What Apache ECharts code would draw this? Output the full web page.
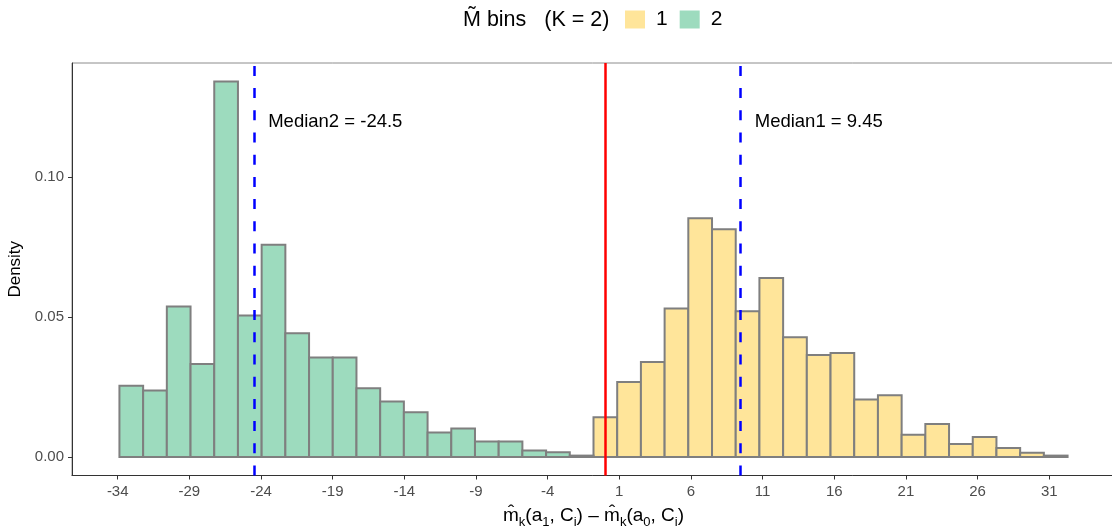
<!DOCTYPE html>
<html>
<head>
<meta charset="utf-8">
<title>histogram</title>
<script src="https://cdn.jsdelivr.net/npm/echarts@6/dist/echarts.min.js"></script>
<style>
  html, body { margin: 0; padding: 0; background: #fff; }
  #chart { width: 1112px; height: 531px; }
</style>
</head>
<body>
<div id="chart"></div>
<script>
// histogram bins (shared by both groups)
var binStart = -33.88;
var binWidth = 1.654;

// group 2 (green) fills bins 0..19, group 1 (yellow) fills bins 20..39
var group2Offset = 0;
var group2Density = [0.0254, 0.0237, 0.0537, 0.0332, 0.1340, 0.0505, 0.0757, 0.0442, 0.0355, 0.0355,
                     0.0245, 0.0198, 0.0160, 0.0087, 0.0102, 0.0055, 0.0055, 0.0023, 0.0017, 0.0005];
var group1Offset = 20;
var group1Density = [0.0142, 0.0268, 0.0339, 0.0530, 0.0852, 0.0813, 0.0520, 0.0639, 0.0427, 0.0364,
                     0.0371, 0.0205, 0.0220, 0.0079, 0.0118, 0.0046, 0.0071, 0.0032, 0.0015, 0.0005];

var medianValues = [9.45, -24.5];
var medianLabels = ['Median1 = 9.45', 'Median2 = -24.5'];
var medianLabelY = 0.12;

var xTicks = [-34, -29, -24, -19, -14, -9, -4, 1, 6, 11, 16, 21, 26, 31];
var yTicks = [0, 0.05, 0.10];
var yTickLabels = ['0.00', '0.05', '0.10'];

var FONT = '"Liberation Sans", Arial, Helvetica, sans-serif';
var fill1 = '#FFE59A';
var fill2 = '#9DDBBE';

function binData(dens, offset) {
  var out = [];
  for (var k = 0; k < dens.length; k++) {
    out.push([binStart + (offset + k) * binWidth, binStart + (offset + k + 1) * binWidth, dens[k]]);
  }
  return out;
}

function barRenderer(color) {
  return function (params, api) {
    var p0 = api.coord([api.value(0), api.value(2)]);
    var p1 = api.coord([api.value(1), 0]);
    return {
      type: 'rect',
      shape: { x: p0[0], y: p0[1], width: p1[0] - p0[0], height: p1[1] - p0[1] },
      style: { fill: color, stroke: '#7f7f7f', lineWidth: 2 }
    };
  };
}

var annData = medianValues.map(function (v, i) { return [v, medianLabelY, medianLabels[i]]; });

var chart = echarts.init(document.getElementById('chart'));
chart.setOption({
  animation: false,
  textStyle: { fontFamily: FONT },
  title: {
    text: 'M\u0303 bins   (K = 2)',
    left: 458,
    top: 4,
    textStyle: { fontFamily: FONT, fontSize: 21.5, fontWeight: 'normal', color: '#000' }
  },
  legend: {
    data: ['1', '2'],
    left: 620,
    top: 4,
    icon: 'rect',
    itemWidth: 20,
    itemHeight: 18,
    itemGap: 12,
    itemStyle: { borderWidth: 0 },
    textStyle: { fontFamily: FONT, fontSize: 21, color: '#000', padding: [0, 0, 0, 6] }
  },
  grid: {
    left: 72,
    width: 1043,
    top: 63,
    bottom: 55.5,
    outerBoundsMode: 'none',
    containLabel: false,
    show: true,
    borderColor: '#8c8c8c',
    borderWidth: 1
  },
  xAxis: {
    type: 'value',
    min: -37.19,
    max: 35.59,
    splitLine: { show: false },
    axisLine: { show: true, onZero: false, lineStyle: { color: '#333', width: 1 } },
    axisTick: { show: true, length: 4, customValues: xTicks, lineStyle: { color: '#333' } },
    axisLabel: { customValues: xTicks, fontSize: 15, color: '#4d4d4d', margin: 9, fontFamily: FONT },
    name: '{b|m\u0302}{s|k}{b|(a}{s|1}{b|, C}{s|i}{b|) \u2013 }{b|m\u0302}{s|k}{b|(a}{s|0}{b|, C}{s|i}{b|)}',
    nameLocation: 'middle',
    nameGap: 27,
    nameTextStyle: {
      rich: {
        b: { fontSize: 19, color: '#000', lineHeight: 26, fontFamily: FONT },
        s: { fontSize: 13, color: '#000', lineHeight: 15, verticalAlign: 'bottom', fontFamily: FONT }
      }
    }
  },
  yAxis: {
    type: 'value',
    min: -0.0066,
    max: 0.1406,
    splitLine: { show: false },
    axisLine: { show: true, onZero: false, lineStyle: { color: '#333', width: 1 } },
    axisTick: { show: true, length: 4, customValues: yTicks, lineStyle: { color: '#333' } },
    axisLabel: {
      customValues: yTicks,
      fontSize: 15,
      color: '#4d4d4d',
      margin: 8,
      fontFamily: FONT,
      formatter: function (v) {
        var i = yTicks.indexOf(v);
        return i >= 0 ? yTickLabels[i] : v.toFixed(2);
      }
    },
    name: 'Density',
    nameLocation: 'middle',
    nameGap: 44,
    nameTextStyle: { fontSize: 17, color: '#000', fontFamily: FONT }
  },
  series: [
    {
      name: '1',
      type: 'custom',
      itemStyle: { color: fill1 },
      renderItem: barRenderer(fill1),
      encode: { x: [0, 1], y: 2 },
      data: binData(group1Density, group1Offset),
      z: 2
    },
    {
      name: '2',
      type: 'custom',
      itemStyle: { color: fill2 },
      renderItem: barRenderer(fill2),
      encode: { x: [0, 1], y: 2 },
      data: binData(group2Density, group2Offset),
      z: 2
    },
    {
      name: 'vlines',
      type: 'line',
      data: [],
      z: 5,
      markLine: {
        silent: true,
        symbol: 'none',
        animation: false,
        label: { show: false },
        data: [
          { xAxis: 0, lineStyle: { color: '#ff0000', width: 2.5, type: 'solid' } },
          { xAxis: medianValues[0], lineStyle: { color: '#0000ff', width: 2.5, type: [10, 12.2] } },
          { xAxis: medianValues[1], lineStyle: { color: '#0000ff', width: 2.5, type: [10, 12.2] } }
        ]
      }
    },
    {
      name: 'annotations',
      type: 'custom',
      z: 6,
      silent: true,
      data: annData,
      encode: { x: 0, y: 1 },
      renderItem: function (params, api) {
        var p = api.coord([api.value(0) + 1, api.value(1)]);
        return {
          type: 'text',
          x: p[0],
          y: p[1] + 1,
          style: {
            text: annData[params.dataIndex][2],
            fill: '#000',
            font: '18.5px ' + FONT,
            align: 'left',
            verticalAlign: 'middle'
          }
        };
      }
    }
  ]
});
window.addEventListener('resize', function () { chart.resize(); });
</script>
</body>
</html>
